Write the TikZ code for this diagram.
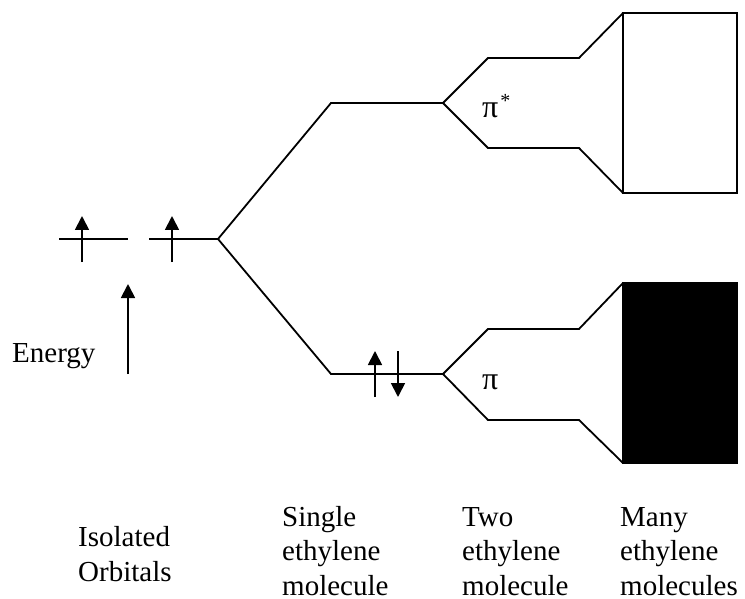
\documentclass[tikz,border=0pt]{standalone}
\usepackage{fontspec}
\setmainfont{Liberation Serif}
\usetikzlibrary{arrows.meta}
\tikzset{
  lvl/.style={line width=1.8pt, line join=miter},
  spin/.style={line width=1.8pt, -{Triangle[width=14pt,length=14pt]}},
  lbl/.style={inner sep=0pt, anchor=base west, font=\fontsize{29}{34.5}\selectfont},
  greek/.style={inner sep=0pt, anchor=base west, font=\fontsize{32}{34}\selectfont}
}
\begin{document}
\begin{tikzpicture}[x=1pt,y=-1pt]
\useasboundingbox (0,0) rectangle (745,599);
% isolated orbitals
\coordinate (a1L) at (59,239);
\coordinate (a1R) at (128,239);
\coordinate (a2L) at (149,239);
\coordinate (b0) at (218,239);
% single molecule levels
\coordinate (u1) at (331,103);
\coordinate (u2) at (443,103);
\coordinate (l1) at (331,374);
\coordinate (l2) at (443,374);
% two molecules, pi*
\coordinate (ua) at (488,58);
\coordinate (ub) at (579,58);
\coordinate (uc) at (623,13);
\coordinate (ud) at (488,148);
\coordinate (ue) at (579,148);
\coordinate (uf) at (623,193);
\coordinate (ur) at (737,193);
% two molecules, pi
\coordinate (la) at (488,329);
\coordinate (lb) at (579,329);
\coordinate (lc) at (623,283);
\coordinate (ld) at (488,420);
\coordinate (le) at (579,420);
\coordinate (lf) at (623,463);
\coordinate (lr) at (737,463);

\draw[lvl] (a1L) -- (a1R);
\draw[lvl] (a2L) -- (b0);
\draw[lvl] (b0) -- (u1) -- (u2);
\draw[lvl] (b0) -- (l1) -- (l2);
\draw[lvl] (u2) -- (ua) -- (ub) -- (uc);
\draw[lvl] (u2) -- (ud) -- (ue) -- (uf);
\draw[lvl] (uc) rectangle (ur);
\draw[lvl] (l2) -- (la) -- (lb) -- (lc);
\draw[lvl] (l2) -- (ld) -- (le) -- (lf);
\draw[lvl, fill=black] (lc) rectangle (lr);

% electrons
\coordinate (e1s) at (82,262);  \coordinate (e1t) at (82,216);
\coordinate (e2s) at (172,262); \coordinate (e2t) at (172,216);
\coordinate (e3s) at (375,397); \coordinate (e3t) at (375,351);
\coordinate (e4s) at (398,351); \coordinate (e4t) at (398,397);
\draw[spin] (e1s) -- (e1t);
\draw[spin] (e2s) -- (e2t);
\draw[spin] (e3s) -- (e3t);
\draw[spin] (e4s) -- (e4t);

% energy axis
\coordinate (en0) at (128,374);
\coordinate (en1) at (128,284);
\draw[spin] (en0) -- (en1);
\node[lbl] (energy) at (12,362) {Energy};

% pi labels
\node[greek] (pistar) at (482,118) {π\kern2pt\raisebox{10pt}{\fontsize{20}{20}\selectfont *}};
\node[greek] (pi) at (482,389) {π};

% column labels
\node[lbl, align=left] (iso) at (78,581) {Isolated\\Orbitals};
\node[lbl, align=left] (one) at (282,595) {Single\\ethylene\\molecule};
\node[lbl, align=left] (two) at (462,595) {Two\\ethylene\\molecule};
\node[lbl, align=left] (many) at (620,595) {Many\\ethylene\\molecules};
\end{tikzpicture}
\end{document}
